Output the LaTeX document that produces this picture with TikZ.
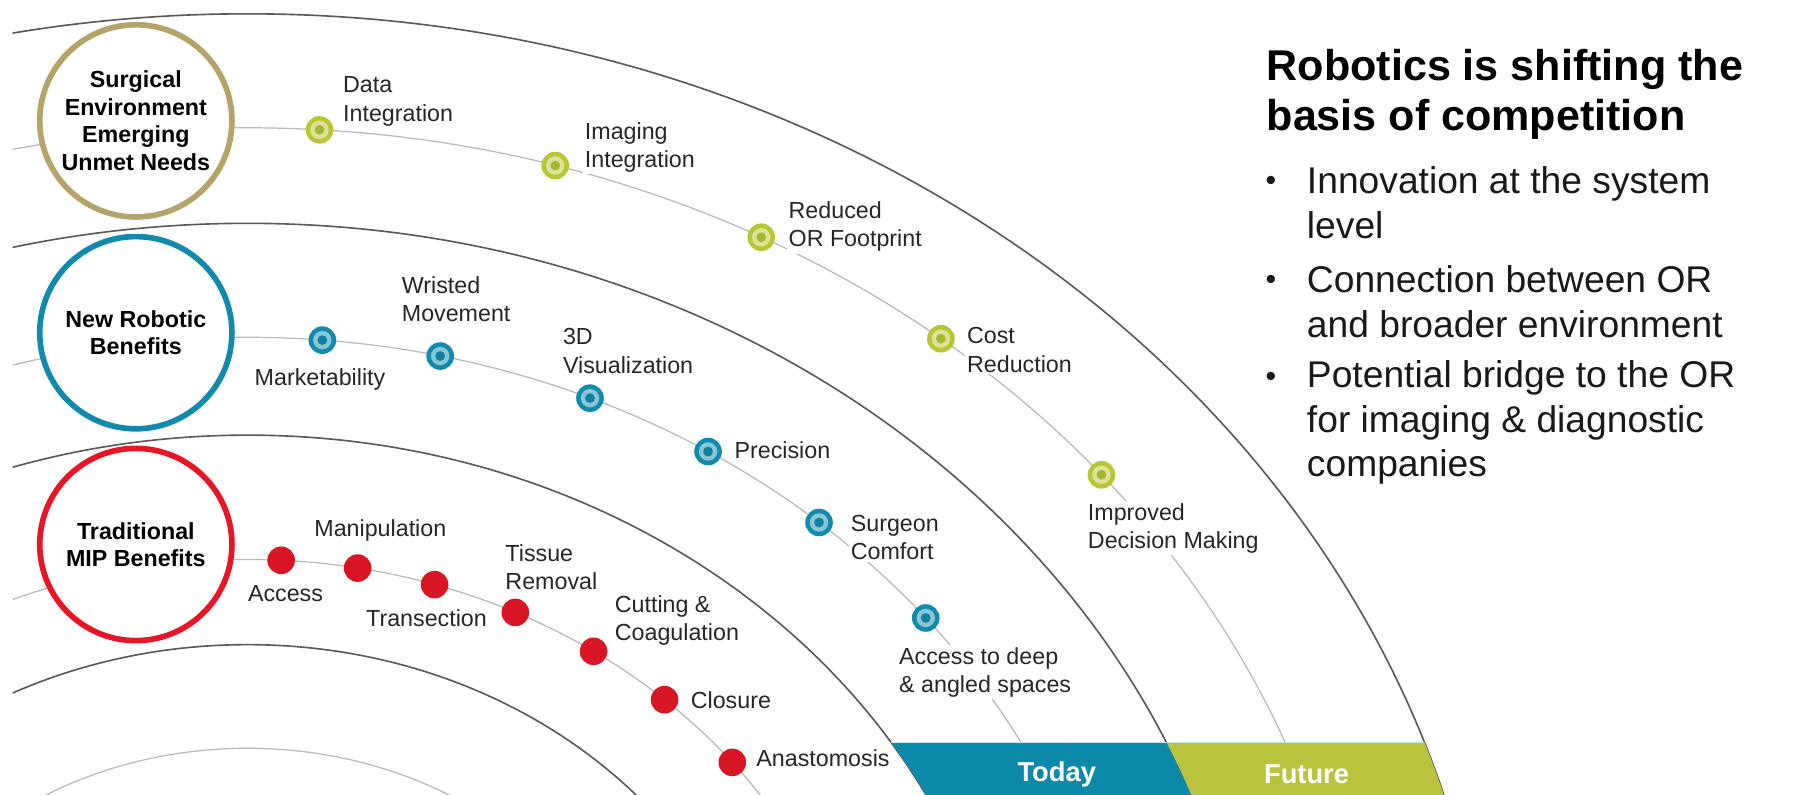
\documentclass[tikz,border=0pt]{standalone}
\usepackage{fontspec}
\setmainfont{Liberation Sans}
\usetikzlibrary{calc}

\definecolor{ringgold}{RGB}{181,164,106}
\definecolor{ringteal}{RGB}{18,138,172}
\definecolor{ringred}{RGB}{230,22,38}
\definecolor{dotgreen}{RGB}{184,198,52}
\definecolor{bandteal}{RGB}{13,137,170}
\definecolor{bandgreen}{RGB}{185,195,62}

\begin{document}
\begin{tikzpicture}[x=0.02cm, y=-0.02cm,
  bigarc/.style={black!65, line width=0.8pt},
  subarc/.style={black!28, line width=0.6pt},
  theme/.style={circle, draw=#1, line width=2.8pt, fill=white, minimum size=3.34cm,
    inner sep=0pt, align=center, text=black, font=\fontsize{11.5}{13.6}\selectfont\bfseries},
  ringdot/.style={circle, fill=#1, minimum size=0.48cm, inner sep=0pt,
    path picture={
      \fill[white!50!#1] (path picture bounding box.center) circle (0.16cm);
      \fill[#1!92!black] (path picture bounding box.center) circle (0.085cm);}},
  reddot/.style={circle, fill=ringred!94!black, minimum size=0.48cm, inner sep=0pt},
  lbl/.style={align=left, fill=white, inner sep=1pt, text=black!85,
    font=\fontsize{11.5}{14}\selectfont},
  headline/.style={align=left, inner sep=0pt, font=\fontsize{21.3}{24.4}\selectfont\bfseries},
  point/.style={align=left, inner sep=0pt, text=black!90, font=\fontsize{18.4}{22}\selectfont},
  bandtext/.style={text=white, font=\fontsize{13.5}{16}\selectfont\bfseries}]

  \fill[white] (0,0) rectangle (1568,690);

  % 中心
  \coordinate (O) at (215,958);

  % 円弧
  \begin{scope}
    \clip (11,0) rectangle (1568,690);
    \foreach \r in {946,764,580,398} {
      \draw[bigarc] (O) ellipse [x radius=1.145*\r, y radius=\r];
    }
    \foreach \r in {847,665,472,308} {
      \draw[subarc] (O) ellipse [x radius=1.145*\r, y radius=\r];
    }
  \end{scope}

  % Today / Future の帯
  \begin{scope}
    \clip (11,645) rectangle (1568,690);
    \fill[bandgreen, even odd rule] (O) ellipse [x radius=1.145*946, y radius=946]
                                    (O) ellipse [x radius=1.145*764, y radius=764];
    \fill[bandteal, even odd rule] (O) ellipse [x radius=1.145*764, y radius=764]
                                   (O) ellipse [x radius=1.145*580, y radius=580];
  \end{scope}
  \coordinate (B1) at (774,645);
  \coordinate (B2) at (1237,645);
  \draw[bandteal!25, line width=0.7pt] (B1) -- (B2);
  \node[bandtext] (today) at (918,673) {Today};
  \node[bandtext] (future) at (1135,673) {Future};

  % 円
  \node[theme=ringgold] (env) at (118,105) {Surgical\\Environment\\Emerging\\Unmet Needs};
  \node[theme=ringteal] (robo) at (118,289) {New Robotic\\Benefits};
  \node[theme=ringred] (mip) at (118,473) {Traditional\\MIP Benefits};

  % 点(上段)
  \foreach \t [count=\i] in {86.3,74.0,62.6,51.6,40.1} {
    \node[ringdot=dotgreen] (g\i) at ({215+1.145*847*cos(\t)},{958-847*sin(\t)}) {};
  }
  % 点(中段)
  \foreach \t [count=\i] in {85.1,77.3,67.0,58.3,49.3,39.3} {
    \node[ringdot=ringteal] (b\i) at ({215+1.145*665*cos(\t)},{958-665*sin(\t)}) {};
  }
  % 点(下段)
  \foreach \t [count=\i] in {86.9,79.8,72.5,64.5,56.2,47.9,38.8} {
    \node[reddot] (r\i) at ({215+1.145*472*cos(\t)},{958-472*sin(\t)}) {};
  }

  % ラベル(上段)
  \node[lbl, anchor=west] (lg1) at (296,88) {Data\\Integration};
  \node[lbl, anchor=west] (lg2) at (506,128) {Imaging\\Integration};
  \node[lbl, anchor=west] (lg3) at (683,197) {Reduced\\OR Footprint};
  \node[lbl, anchor=west] (lg4) at (838,304) {Cost\\Reduction};
  \node[lbl, anchor=west] (lg5) at (943,459) {Improved\\Decision Making};

  % ラベル(中段)
  \node[lbl] (lb1) at (278,330) {Marketability};
  \node[lbl, anchor=west] (lb2) at (347,260) {Wristed\\Movement};
  \node[lbl, anchor=west] (lb3) at (487,305) {3D\\Visualization};
  \node[lbl, anchor=west] (lb4) at (636,391) {Precision};
  \node[lbl, anchor=west] (lb5) at (737,467) {Surgeon\\Comfort};
  \node[lbl, anchor=west] (lb6) at (779,584) {Access to deep\\\& angled spaces};

  % ラベル(下段)
  \node[lbl] (lr1) at (248,516) {Access};
  \node[lbl, anchor=west] (lr2) at (271,461) {Manipulation};
  \node[lbl, anchor=west] (lr3) at (316,537) {Transection};
  \node[lbl, anchor=west] (lr4) at (437,493) {Tissue\\Removal};
  \node[lbl, anchor=west] (lr5) at (532,539) {Cutting \&\\Coagulation};
  \node[lbl, anchor=west] (lr6) at (598,608) {Closure};
  \node[lbl, anchor=west] (lr7) at (655,659) {Anastomosis};

  % 右側の文
  \node[headline, anchor=west] (head) at (1100,82) {Robotics is shifting the\\basis of competition};
  \foreach \y [count=\i] in {159,245,330} {
    \node[point, font=\fontsize{15}{17}\selectfont] (dot\i) at (1104,\y) {\textbullet};
  }
  \node[point, anchor=west] (p1) at (1135,176) {Innovation at the system\\level};
  \node[point, anchor=west] (p2) at (1135,262) {Connection between OR\\and broader environment};
  \node[point, anchor=west] (p3) at (1135,367) {Potential bridge to the OR\\for imaging \& diagnostic\\companies};

\end{tikzpicture}
\end{document}
